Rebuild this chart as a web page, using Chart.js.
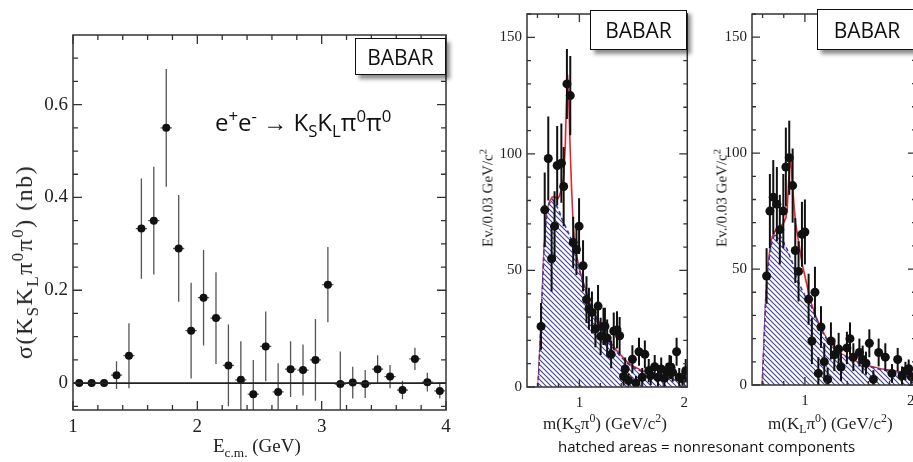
<!DOCTYPE html>
<html><head><meta charset="utf-8">
<script src="https://cdn.jsdelivr.net/npm/chart.js@4.4.1/dist/chart.umd.min.js"></script>
<style>
html,body{margin:0;padding:0;background:#fff;}
#page{position:relative;width:913px;height:462px;overflow:hidden;background:#fff;}
canvas{position:absolute;top:0;}
.t{position:absolute;white-space:nowrap;color:#222;line-height:1;}
.serif{font-family:"Liberation Serif","Times New Roman",serif;}
.sans{font-family:"Open Sans",sans-serif;}
.rot{transform:translate(-50%,-50%) rotate(-90deg);}
.box{position:absolute;border:1.5px solid #111;background:#fff;box-shadow:4px 4px 4px rgba(0,0,0,0.45);font-family:"Open Sans",sans-serif;color:#111;display:flex;align-items:center;justify-content:center;box-sizing:border-box;}
sub,sup{font-size:70%;line-height:0;}
</style></head>
<body>
<div id="page">
<canvas id="c1" width="460" height="462" style="left:0"></canvas>
<canvas id="c2" width="235" height="462" style="left:460px"></canvas>
<canvas id="c3" width="240" height="462" style="left:690px"></canvas>

<div class="box" style="left:355px;top:38px;width:91px;height:37px;font-size:21px;">BABAR</div>
<div class="t sans" style="left:215px;top:110px;font-size:24px;color:#111;">e<sup>+</sup>e<sup>-</sup> &rarr; K<sub>S</sub>K<sub>L</sub>&pi;<sup>0</sup>&pi;<sup>0</sup></div>
<div class="t serif rot" style="left:24px;top:262px;font-size:24px;letter-spacing:1.5px;">&sigma;(K<sub>S</sub>K<sub>L</sub>&pi;<sup>0</sup>&pi;<sup>0</sup>) (nb)</div>
<div class="t serif" style="left:213px;top:436px;font-size:19px;">E<sub>c.m.</sub> (GeV)</div>

<div class="box" style="left:590px;top:10px;width:97px;height:40px;font-size:21px;">BABAR</div>
<div class="box" style="left:817px;top:9px;width:100px;height:41px;font-size:21px;">BABAR</div>
<div class="t serif rot" style="left:488px;top:198px;font-size:15px;">Ev./0.03 GeV/c<sup>2</sup></div>
<div class="t serif rot" style="left:722px;top:198px;font-size:15px;">Ev./0.03 GeV/c<sup>2</sup></div>
<div class="t serif" style="left:543px;top:415px;font-size:17px;">m(K<sub>S</sub>&pi;<sup>0</sup>) (GeV/c<sup>2</sup>)</div>
<div class="t serif" style="left:768px;top:415px;font-size:17px;">m(K<sub>L</sub>&pi;<sup>0</sup>) (GeV/c<sup>2</sup>)</div>
<div class="t sans" style="left:558px;top:439px;font-size:15px;color:#111;">hatched areas = nonresonant components</div>
</div>

<script>
// ---------- Left panel: cross section ----------
const eCM = [1.05,1.15,1.25,1.35,1.45,1.55,1.65,1.75,1.85,1.95,2.05,2.15,2.25,2.35,2.45,2.55,2.65,2.75,2.85,2.95,3.05,3.15,3.25,3.35,3.45,3.55,3.65,3.75,3.85,3.95];
const sigma = [0,0,0,0.017,0.059,0.333,0.350,0.550,0.290,0.113,0.184,0.140,0.038,0.007,-0.024,0.079,-0.019,0.030,0.028,0.050,0.212,-0.002,0.001,-0.002,0.030,0.014,-0.015,0.052,0.002,-0.017];
const sigmaErr = [0,0,0,0.030,0.070,0.108,0.116,0.127,0.115,0.103,0.103,0.099,0.088,0.083,0.074,0.075,0.062,0.060,0.055,0.088,0.081,0.070,0.034,0.030,0.030,0.025,0.020,0.024,0.020,0.016];
const eHalfBin = 0.045;
const leftXLabels = [1,2,3,4];
const leftXMinor = [1.2,1.4,1.6,1.8,2.2,2.4,2.6,2.8,3.2,3.4,3.6,3.8];
const leftYLabels = [0,0.2,0.4,0.6];
const leftYMinor = [-0.05,0.05,0.1,0.15,0.25,0.3,0.35,0.45,0.5,0.55,0.65,0.7];

// ---------- Middle panel: m(KS pi0) ----------
const mKs = [0.634,0.669,0.703,0.735,0.763,0.788,0.828,0.850,0.881,0.913,0.941,0.972,0.997,1.035,1.068,1.091,1.120,1.153,1.178,1.203,1.230,1.244,1.265,1.303,1.328,1.359,1.384,1.422,1.437,1.469,1.506,1.540,1.569,1.600,1.625,1.662,1.681,1.719,1.750,1.781,1.812,1.834,1.860,1.875,1.890,1.928,1.953,1.984,2.015];
const nKs = [26,76,98,55,69,95,96,86,130,125,62,59,69,52,37.5,33.6,32,25,34.7,21.7,26,26,21,14,24,24.5,22,4.5,7.7,2.8,11.9,1.7,15.1,4.2,14,7,4.9,8.7,4.2,7.7,3.8,6.3,8.7,8.4,6.3,15.1,4.2,3.5,7];
const nKsErr = [10,16,18,14,15,17,17,17,15,17,11,11,12,11,10,9,9,8,9,8,8,8,8,6,8,8,8,4,5,3,6,3,6,4,6,5,4,5,4,5,4,4,5,5,4,6,4,3,5];
const ksCurveM = [0.605,0.62,0.637,0.662,0.684,0.71,0.74,0.77,0.79,0.81,0.83,0.85,0.865,0.877,0.887,0.897,0.91,0.925,0.94,0.955,0.975,1.0,1.05,1.1,1.15,1.2,1.25,1.3,1.35,1.4,1.45,1.5,1.6,1.7,1.8,1.9,2.0,2.05];
const ksTotal = [0,14,31,59,73,79,81.5,81.5,80.5,82,85,90,103,122,134,125,105,86,70,62,56,50.5,43,36,31,27,22.5,19,16,13.5,11,9.2,7,5.4,4.2,3.3,2.7,2.4];
const ksNonres = [0,14,31,58,72,78.5,80.5,79,77,75,72.5,70.5,69,68,67,66,64.5,63,61,58.5,55,50,42.5,35.5,30.5,26,21.8,18.3,15.3,12.8,10.5,8.7,6.5,5.0,3.9,3.1,2.5,2.2];

// ---------- Right panel: m(KL pi0) ----------
const mKl = [0.638,0.669,0.701,0.735,0.763,0.796,0.820,0.852,0.884,0.909,0.940,0.972,1.000,1.035,1.066,1.095,1.127,1.152,1.183,1.215,1.246,1.278,1.319,1.341,1.397,1.426,1.458,1.515,1.546,1.577,1.609,1.647,1.697,1.760,1.823,1.877,1.918,1.950,1.981,2.007];
const nKl = [47,75,81,78,67,75,94,98,86,58,49,65,66,37,19,40,5,25,10,2.4,19,13,15.5,7.7,16,20,12,14,11,9.4,18,2.4,14,12,5,11,4,6,7,3.5];
const nKlErr = [12,16,16,16,15,16,17,16,16,14,13,14,14,11,10,11,7,9,8,5,8,7,7,6,7,7,6,6,6,5,6,4,6,6,4,5,4,4,4,3];
const klCurveM = [0.597,0.615,0.63,0.644,0.665,0.692,0.72,0.745,0.77,0.8,0.82,0.833,0.845,0.858,0.868,0.88,0.896,0.912,0.943,0.975,1.0,1.054,1.1,1.149,1.2,1.274,1.35,1.464,1.6,1.716,1.85,2.0,2.05];
const klTotal = [0,20,37,47,57,64,66.5,67.5,68.5,70,72,76,87,98,96,88,78,70,61,52,47,36,30,24.6,20.5,16.2,13.3,10.6,8.3,7,6,5.2,5];
const klNonres = [0,20,37,47,56,62.5,65.5,66.5,64,61.5,59.5,58.4,57,55.5,54.5,53,51,47.2,44,40.8,38.5,34.5,29.5,24.2,20.2,15.9,13,10.3,8,6.7,5.7,4.9,4.7];
const massXLabels = [1,2];
const massXMinor = [0.6,0.8,1.2,1.4,1.6,1.8];
const massYLabels = [0,50,100,150];
const massYMinor = [10,20,30,40,60,70,80,90,110,120,130,140,160];

// ---------- plugins ----------
const framePlugin = {
  id: 'frame',
  afterDatasetsDraw(chart, args, o) {
    const {ctx, chartArea: a, scales: {x, y}} = chart;
    ctx.save();
    ctx.strokeStyle = o.color || '#222';
    ctx.lineWidth = 1.3;
    const xt = (vals, len) => vals.forEach(v => {
      const p = x.getPixelForValue(v);
      if (p < a.left - 0.5 || p > a.right + 0.5) return;
      ctx.beginPath(); ctx.moveTo(p, a.bottom); ctx.lineTo(p, a.bottom - len);
      ctx.moveTo(p, a.top); ctx.lineTo(p, a.top + len); ctx.stroke();
    });
    const yt = (vals, len) => vals.forEach(v => {
      const p = y.getPixelForValue(v);
      if (p < a.top - 0.5 || p > a.bottom + 0.5) return;
      ctx.beginPath(); ctx.moveTo(a.left, p); ctx.lineTo(a.left + len, p);
      ctx.moveTo(a.right, p); ctx.lineTo(a.right - len, p); ctx.stroke();
    });
    xt(o.xMajor, o.major); xt(o.xMinor, o.minor);
    yt(o.yMajor, o.major); yt(o.yMinor, o.minor);
    if (o.zeroLine) {
      const p = y.getPixelForValue(0);
      ctx.lineWidth = 1.6; ctx.strokeStyle = '#222';
      ctx.beginPath(); ctx.moveTo(a.left, p); ctx.lineTo(a.right, p); ctx.stroke();
    }
    ctx.lineWidth = 1.5; ctx.strokeStyle = o.color || '#222';
    ctx.strokeRect(a.left, a.top, a.right - a.left, a.bottom - a.top);
    ctx.restore();
  }
};

const errPlugin = {
  id: 'errbars',
  beforeDatasetDraw(chart, args, o) {
    const ds = chart.data.datasets[args.index];
    if (!ds.errBars) return;
    const {ctx, chartArea: a, scales: {x, y}} = chart;
    ctx.save();
    ctx.beginPath(); ctx.rect(a.left, a.top, a.right - a.left, a.bottom - a.top); ctx.clip();
    ctx.strokeStyle = ds.errColor; ctx.lineWidth = ds.errWidth;
    ds.data.forEach(d => {
      const px = x.getPixelForValue(d.x), py = y.getPixelForValue(d.y);
      ctx.beginPath();
      if (d.yErr) { ctx.moveTo(px, y.getPixelForValue(d.y - d.yErr)); ctx.lineTo(px, y.getPixelForValue(d.y + d.yErr)); }
      if (d.xErr) { ctx.moveTo(x.getPixelForValue(d.x - d.xErr), py); ctx.lineTo(x.getPixelForValue(d.x + d.xErr), py); }
      ctx.stroke();
    });
    ctx.restore();
  }
};

function makeHatch(color) {
  const s = 5, c = document.createElement('canvas');
  c.width = s; c.height = s;
  const g = c.getContext('2d');
  g.fillStyle = '#ffffff'; g.fillRect(0, 0, s, s);
  g.strokeStyle = color; g.lineWidth = 1.1;
  g.beginPath();
  g.moveTo(-1, -1); g.lineTo(s + 1, s + 1);
  g.moveTo(-1, s - 1); g.lineTo(1, s + 1);
  g.moveTo(s - 1, -1); g.lineTo(s + 1, 1);
  g.stroke();
  return g.createPattern(c, 'repeat');
}

const serif = "'Liberation Serif', 'Times New Roman', serif";

function axisCfg(min, max, labels, size, padding, fitKey, fitVal) {
  return {
    type: 'linear', min, max,
    afterBuildTicks: s => { s.ticks = labels.map(v => ({value: v})); },
    afterFit: s => { s[fitKey] = fitVal; },
    grid: {display: false, drawTicks: false},
    border: {display: false},
    ticks: {autoSkip: false, maxRotation: 0, padding, color: '#222',
      font: {family: serif, size}, callback: v => String(v)}
  };
}

// Left chart
new Chart(document.getElementById('c1'), {
  type: 'scatter',
  data: {datasets: [{
    data: eCM.map((x, i) => ({x, y: sigma[i], yErr: sigmaErr[i], xErr: eHalfBin})),
    errBars: true, errColor: '#555', errWidth: 1.3,
    pointRadius: 4, pointBackgroundColor: '#111', pointBorderWidth: 0
  }]},
  options: {
    responsive: false, animation: false, events: [],
    layout: {padding: {left: 0, top: 35, right: 14, bottom: 0}},
    plugins: {legend: {display: false}, tooltip: {enabled: false},
      frame: {xMajor: leftXLabels, xMinor: leftXMinor, yMajor: leftYLabels, yMinor: leftYMinor, major: 9, minor: 5, zeroLine: true, color: '#333'}},
    scales: {
      x: axisCfg(1, 4, leftXLabels, 19, 6, 'height', 52),
      y: axisCfg(-0.058, 0.75, leftYLabels, 19, 5, 'width', 73)
    }
  },
  plugins: [framePlugin, errPlugin]
});

function massChart(id, m, n, nErr, cm, tot, nonres, xmax, yW, xH, pad) {
  return new Chart(document.getElementById(id), {
    type: 'scatter',
    data: {datasets: [
      {type: 'scatter', order: 0,
       data: m.map((x, i) => ({x, y: n[i], yErr: nErr[i]})),
       errBars: true, errColor: '#111', errWidth: 2,
       pointRadius: 4.5, pointBackgroundColor: '#111', pointBorderWidth: 0},
      {type: 'line', order: 1,
       data: cm.map((x, i) => ({x, y: nonres[i]})),
       borderColor: '#3c3cb0', borderWidth: 1.6, borderDash: [4, 3],
       backgroundColor: makeHatch('#3f3fa6'), fill: 'origin',
       pointRadius: 0, tension: 0},
      {type: 'line', order: 2,
       data: cm.map((x, i) => ({x, y: tot[i]})),
       borderColor: '#e8232b', borderWidth: 1.6, fill: false,
       pointRadius: 0, tension: 0}
    ]},
    options: {
      responsive: false, animation: false, events: [],
      layout: {padding: pad},
      plugins: {legend: {display: false}, tooltip: {enabled: false},
        frame: {xMajor: massXLabels, xMinor: massXMinor, yMajor: massYLabels, yMinor: massYMinor, major: 8, minor: 4, color: '#333'}},
      scales: {
        x: axisCfg(0.5, xmax, massXLabels, 15, 7, 'height', xH),
        y: axisCfg(0, 160, massYLabels, 15, 5, 'width', yW)
      }
    },
    plugins: [framePlugin, errPlugin]
  });
}

massChart('c2', mKs, nKs, nKsErr, ksCurveM, ksTotal, ksNonres, 2.03, 67, 75, {left: 0, top: 7, right: 5, bottom: 0});
massChart('c3', mKl, nKl, nKlErr, klCurveM, klTotal, klNonres, 2.05, 62, 77, {left: 0, top: 7, right: 14, bottom: 0});
</script>
</body></html>
